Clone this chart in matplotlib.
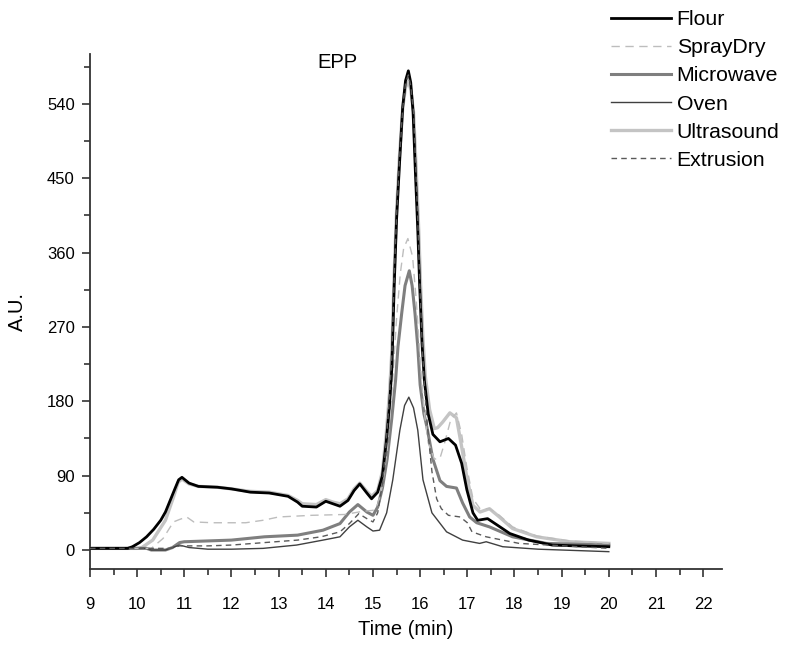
import numpy as np
import matplotlib
matplotlib.use('Agg')
import matplotlib.pyplot as plt
from matplotlib.ticker import MultipleLocator

plt.rcParams['font.family'] = ['Liberation Sans', 'DejaVu Sans']

# --- data (time in min, signal in A.U.) ---
flour_t = [9.0, 9.8, 9.9, 10.05, 10.2, 10.35, 10.5, 10.6, 10.7, 10.8, 10.88, 10.95, 11.1, 11.3, 11.7,
           12.0, 12.4, 12.8, 13.2, 13.4, 13.5, 13.8, 14.0, 14.15, 14.3, 14.47, 14.6, 14.72, 14.87, 14.97,
           15.1, 15.2, 15.28, 15.35, 15.4, 15.45, 15.5, 15.56, 15.63, 15.69, 15.75, 15.8, 15.85, 15.9,
           15.95, 15.99, 16.04, 16.09, 16.17, 16.27, 16.42, 16.6, 16.75, 16.88, 16.99, 17.12, 17.22,
           17.43, 17.64, 17.9, 18.3, 18.8, 19.3, 20.0]
flour_y = [2, 2, 4, 9, 16, 25, 36, 46, 60, 74, 85, 88, 81, 77, 76,
           74, 70, 69, 65, 58, 53, 52, 59, 56, 53, 60, 72, 80, 69, 62,
           70, 90, 130, 175, 220, 320, 400, 465, 536, 568, 580, 566, 530, 456,
           387, 320, 250, 205, 165, 140, 131, 135, 127, 105, 73, 45, 36,
           38, 30, 20, 12, 6, 5, 4]

spray_t = [9.0, 10.3, 10.55, 10.77, 10.9, 11.05, 11.2, 11.6, 12.3, 12.67, 13.0, 13.7, 14.4, 14.8,
           15.0, 15.1, 15.2, 15.3, 15.4, 15.5, 15.58, 15.65, 15.74, 15.84, 15.92, 16.0, 16.08, 16.17,
           16.3, 16.42, 16.52, 16.65, 16.77, 16.88, 16.99, 17.12, 17.27, 17.47, 17.68, 17.96, 18.47,
           19.17, 20.0]
spray_y = [2, 2, 14, 34, 37, 40, 34, 33, 33, 36, 40, 42, 43, 47,
           48, 55, 78, 120, 190, 280, 335, 365, 377, 355, 300, 230, 170, 130,
           110, 111, 130, 158, 166, 140, 100, 62, 50, 50, 42, 28, 17,
           11, 8]

micro_t = [9.0, 10.2, 10.3, 10.6, 10.75, 10.9, 11.0, 12.0, 12.7, 13.4, 13.94, 14.3, 14.5, 14.68,
           14.87, 15.0, 15.1, 15.2, 15.3, 15.4, 15.48, 15.53, 15.61, 15.68, 15.77, 15.83, 15.89, 15.95,
           16.0, 16.08, 16.14, 16.27, 16.42, 16.56, 16.77, 16.9, 17.05, 17.2, 17.47, 17.96, 18.68, 20.0]
micro_y = [2, 2, 0, 0, 3, 9, 10, 12, 16, 18, 24, 32, 46, 55,
           46, 42, 52, 75, 110, 160, 206, 246, 287, 320, 338, 320, 287, 246,
           200, 165, 150, 110, 84, 77, 75, 57, 40, 33, 28, 16, 8, 6]

oven_t = [9.0, 10.2, 10.3, 10.6, 10.8, 10.9, 11.1, 11.5, 12.0, 12.67, 13.38, 13.94, 14.3, 14.5,
          14.68, 14.87, 15.0, 15.14, 15.29, 15.42, 15.57, 15.67, 15.76, 15.86, 15.95, 16.06, 16.25,
          16.56, 16.9, 17.26, 17.4, 17.75, 18.5, 20.0]
oven_y = [2, 2, 0, 0, 4, 6, 3, 1, 1, 2, 6, 12, 16, 28,
          36, 28, 23, 24, 45, 85, 145, 175, 185, 172, 145, 85, 45,
          22, 12, 8, 10, 4, 1, -2]

ultra_t = [9.0, 10.0, 10.1, 10.33, 10.6, 10.77, 10.87, 10.95, 11.1, 11.3, 11.7, 12.0, 12.4, 12.8,
           13.2, 13.4, 13.5, 13.8, 14.0, 14.15, 14.3, 14.47, 14.6, 14.72, 14.87, 14.97, 15.1, 15.2,
           15.28, 15.35, 15.4, 15.45, 15.5, 15.56, 15.63, 15.69, 15.75, 15.8, 15.86, 15.92, 15.97,
           16.01, 16.06, 16.11, 16.2, 16.3, 16.37, 16.48, 16.63, 16.77, 16.88, 16.99, 17.12, 17.27,
           17.47, 17.68, 17.96, 18.47, 19.17, 20.0]
ultra_y = [2, 2, 3, 12, 36, 64, 82, 86, 80, 77, 76, 74, 71, 70,
           66, 60, 56, 55, 61, 58, 56, 62, 74, 81, 71, 65, 72, 95,
           140, 190, 240, 335, 410, 475, 535, 560, 567, 558, 530, 456, 387,
           320, 255, 210, 170, 147, 148, 155, 166, 160, 125, 88, 54, 46,
           50, 40, 26, 16, 10, 8]

extru_t = [9.0, 10.7, 10.9, 11.5, 12.0, 12.7, 13.4, 13.9, 14.3, 14.5, 14.7, 14.87, 15.0, 15.1,
           15.2, 15.28, 15.35, 15.4, 15.45, 15.5, 15.56, 15.63, 15.69, 15.75, 15.8, 15.86, 15.95,
           16.0, 16.05, 16.1, 16.17, 16.25, 16.35, 16.45, 16.6, 16.85, 17.0, 17.1, 17.4, 18.1, 20.0]
extru_y = [2, 2, 5, 5, 6, 9, 12, 16, 22, 32, 44, 38, 34, 45,
           80, 130, 185, 235, 330, 405, 470, 535, 565, 575, 562, 530, 400,
           310, 240, 190, 140, 95, 62, 50, 42, 40, 33, 22, 16, 8, 2]

names = ['Flour', 'SprayDry', 'Microwave', 'Oven', 'Ultrasound', 'Extrusion']

fig = plt.figure(figsize=(7.97, 6.45), dpi=100)
ax = fig.add_axes([0.1129, 0.1178, 0.793, 0.798])

ax.plot(ultra_t, ultra_y, color='#c4c4c4', lw=2.4, zorder=2, label=names[4])
ax.plot(micro_t, micro_y, color='#7f7f7f', lw=2.2, zorder=3, label=names[2])
ax.plot(oven_t, oven_y, color='#404040', lw=1.0, zorder=3, label=names[3])
ax.plot(spray_t, spray_y, color='#bdbdbd', lw=1.0, ls=(0, (6, 4)), zorder=4, label=names[1])
ax.plot(flour_t, flour_y, color='black', lw=2.0, zorder=5, label=names[0])
ax.plot(extru_t, extru_y, color='#5a5a5a', lw=1.0, ls=(0, (4, 3)), zorder=6, label=names[5])

ax.set_xlim(9, 22.4)
ax.set_ylim(-23, 600)
ax.xaxis.set_major_locator(MultipleLocator(1))
ax.xaxis.set_minor_locator(MultipleLocator(0.5))
ax.yaxis.set_major_locator(MultipleLocator(90))
ax.yaxis.set_minor_locator(MultipleLocator(45))
ax.set_yticks(np.arange(0, 541, 90))

for s in ['top', 'right']:
    ax.spines[s].set_visible(False)
for s in ['left', 'bottom']:
    ax.spines[s].set_linewidth(1.3)
    ax.spines[s].set_color('#333333')

ax.tick_params(which='major', direction='out', length=6, width=1.2, color='#333333', labelsize=12)
ax.tick_params(which='minor', direction='out', length=4, width=1.2, color='#333333')
ax.tick_params(axis='x', which='major', pad=14)
ax.tick_params(axis='y', which='major', pad=5)

ax.set_xlabel('Time (min)', fontsize=14.5, labelpad=6)
ax.set_ylabel('A.U.', fontsize=14.5, labelpad=14)
ax.text(0.392, 0.984, 'EPP', transform=ax.transAxes, ha='center', va='center', fontsize=14.5)

h, l = ax.get_legend_handles_labels()
order = [l.index(n) for n in names]
fig.legend([h[i] for i in order], [l[i] for i in order], loc='upper left',
           bbox_to_anchor=(0.751, 1.004), frameon=False, fontsize=15.3,
           handlelength=2.8, handletextpad=0.28, labelspacing=0.43, borderaxespad=0.2)

fig.savefig('out.png', dpi=100)
